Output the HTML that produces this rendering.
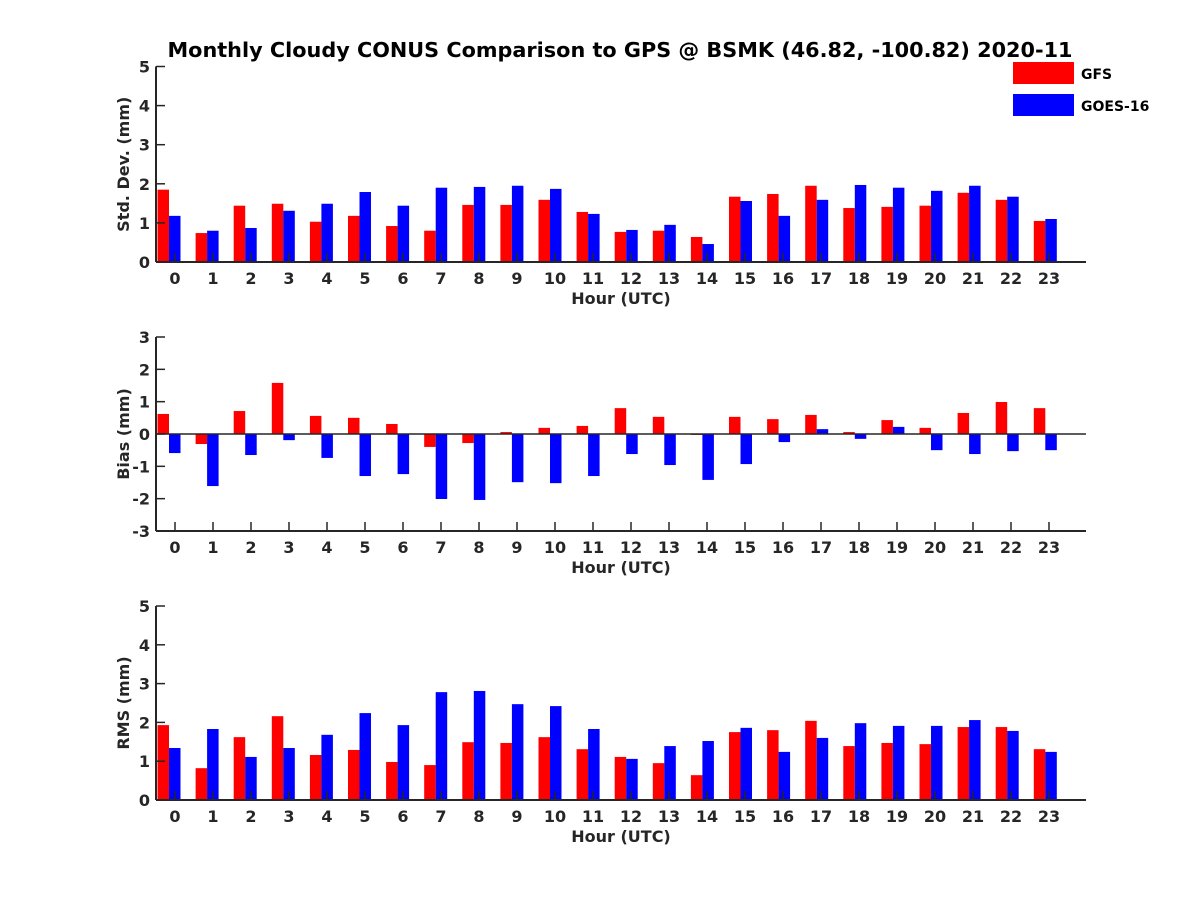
<!DOCTYPE html>
<html><head><meta charset="utf-8"><style>
body{margin:0;background:#fff;}
svg{display:block;font-family:"DejaVu Sans","Liberation Sans",sans-serif;font-weight:bold;}
</style></head><body>
<svg id="chart" width="1200" height="900" viewBox="0 0 1200 900">
<text x="620" y="57" font-size="20" text-anchor="middle" fill="#000" textLength="905" lengthAdjust="spacingAndGlyphs">Monthly Cloudy CONUS Comparison to GPS @ BSMK (46.82, -100.82) 2020-11</text>
<g>
<rect x="1013" y="62" width="61" height="22" fill="#ff0000"/>
<text x="1081" y="79" font-size="14" fill="#000">GFS</text>
<rect x="1013" y="94" width="61" height="22" fill="#0000ff"/>
<text x="1081" y="111" font-size="14" fill="#000">GOES-16</text>
</g>
</svg>
<script>
const hours=[0,1,2,3,4,5,6,7,8,9,10,11,12,13,14,15,16,17,18,19,20,21,22,23];
const stdGFS=[1.85,0.74,1.44,1.49,1.03,1.18,0.92,0.8,1.46,1.46,1.59,1.28,0.77,0.8,0.64,1.67,1.74,1.95,1.38,1.41,1.44,1.77,1.59,1.05];
const stdGOES=[1.18,0.8,0.87,1.31,1.49,1.79,1.44,1.9,1.92,1.95,1.87,1.23,0.82,0.95,0.46,1.56,1.18,1.59,1.97,1.9,1.82,1.95,1.67,1.1];
const biasGFS=[0.62,-0.31,0.71,1.58,0.56,0.5,0.31,-0.4,-0.28,0.06,0.19,0.25,0.8,0.53,-0.03,0.53,0.46,0.59,0.06,0.43,0.19,0.65,0.99,0.8];
const biasGOES=[-0.59,-1.61,-0.65,-0.19,-0.74,-1.3,-1.24,-2.01,-2.04,-1.49,-1.52,-1.3,-0.62,-0.96,-1.42,-0.93,-0.25,0.15,-0.15,0.22,-0.5,-0.62,-0.53,-0.5];
const rmsGFS=[1.93,0.82,1.62,2.16,1.16,1.29,0.98,0.9,1.49,1.47,1.62,1.31,1.11,0.95,0.64,1.75,1.8,2.04,1.39,1.47,1.44,1.88,1.88,1.31];
const rmsGOES=[1.34,1.83,1.11,1.34,1.68,2.24,1.93,2.78,2.81,2.47,2.42,1.83,1.06,1.39,1.52,1.86,1.24,1.6,1.98,1.91,1.91,2.06,1.78,1.24];
const stdTicks=[0,1,2,3,4,5];
const biasTicks=[-3,-2,-1,0,1,2,3];
const rmsTicks=[0,1,2,3,4,5];

const NS='http://www.w3.org/2000/svg';
const svg=document.getElementById('chart');
function mk(tag,attrs,parent){const e=document.createElementNS(NS,tag);for(const k in attrs)e.setAttribute(k,attrs[k]);parent.appendChild(e);return e;}
const X0=156,X1=1086;
function xBar(h){return 169+38.1*h;}
function xLab(h){return 175+38*h;}

function panel(key,top,bot,ymin,ymax,ticks,red,blue,ylabel){
  const g=mk('g',{},svg);
  
  
  const y=v=>bot-(v-ymin)/(ymax-ymin)*(bot-top);
  const bw=11.5;
  hours.forEach((h,i)=>{
    const c=xBar(h);
    [[red[i],'#ff0000',c-bw,'gfs'],[blue[i],'#0000ff',c,'goes16']].forEach(([v,col,x,s])=>{
      const y0=y(Math.max(0,ymin)),yv=y(v);
      const r=mk('rect',{x:x,y:Math.min(y0,yv),width:bw,height:Math.abs(y0-yv),fill:col},g);
      
      
    });
  });
  const ax=mk('g',{stroke:'#262626','stroke-width':2},g);
  
  
  mk('line',{x1:X0,y1:top,x2:X0,y2:bot},ax);
  mk('line',{x1:X0,y1:bot,x2:X1,y2:bot},ax);
  if(ymin<0){mk('line',{x1:X0,y1:y(0),x2:X1,y2:y(0),'stroke-width':1.5},ax);}
  ticks.forEach(t=>{
    mk('line',{x1:X0,y1:y(t),x2:X0+9,y2:y(t),'stroke-width':1.5},ax);
    const tx=mk('text',{x:X0-6,y:y(t)+6,'font-size':16,'text-anchor':'end',fill:'#262626'},g);
    tx.textContent=t;
    
    
  });
  hours.forEach(h=>{
    mk('line',{x1:xLab(h),y1:bot,x2:xLab(h),y2:bot-9,'stroke-width':1.5},ax);
    const tx=mk('text',{x:xLab(h),y:bot+22,'font-size':16,'text-anchor':'middle',fill:'#262626'},g);
    tx.textContent=h;
    
    
  });
  const xl=mk('text',{x:621,y:bot+42,'font-size':16,'text-anchor':'middle',fill:'#262626'},g);
  xl.textContent='Hour (UTC)';
  
  
  const yc=(top+bot)/2;
  const yl=mk('text',{x:129,y:yc,'font-size':16,'text-anchor':'middle',fill:'#262626',transform:'rotate(-90 129 '+yc+')'},g);
  yl.textContent=ylabel;
  
  
}
panel('std',66.5,262,0,5,stdTicks,stdGFS,stdGOES,'Std. Dev. (mm)');
panel('bias',337,531,-3,3,biasTicks,biasGFS,biasGOES,'Bias (mm)');
panel('rms',606,800,0,5,rmsTicks,rmsGFS,rmsGOES,'RMS (mm)');
</script>
</body></html>
